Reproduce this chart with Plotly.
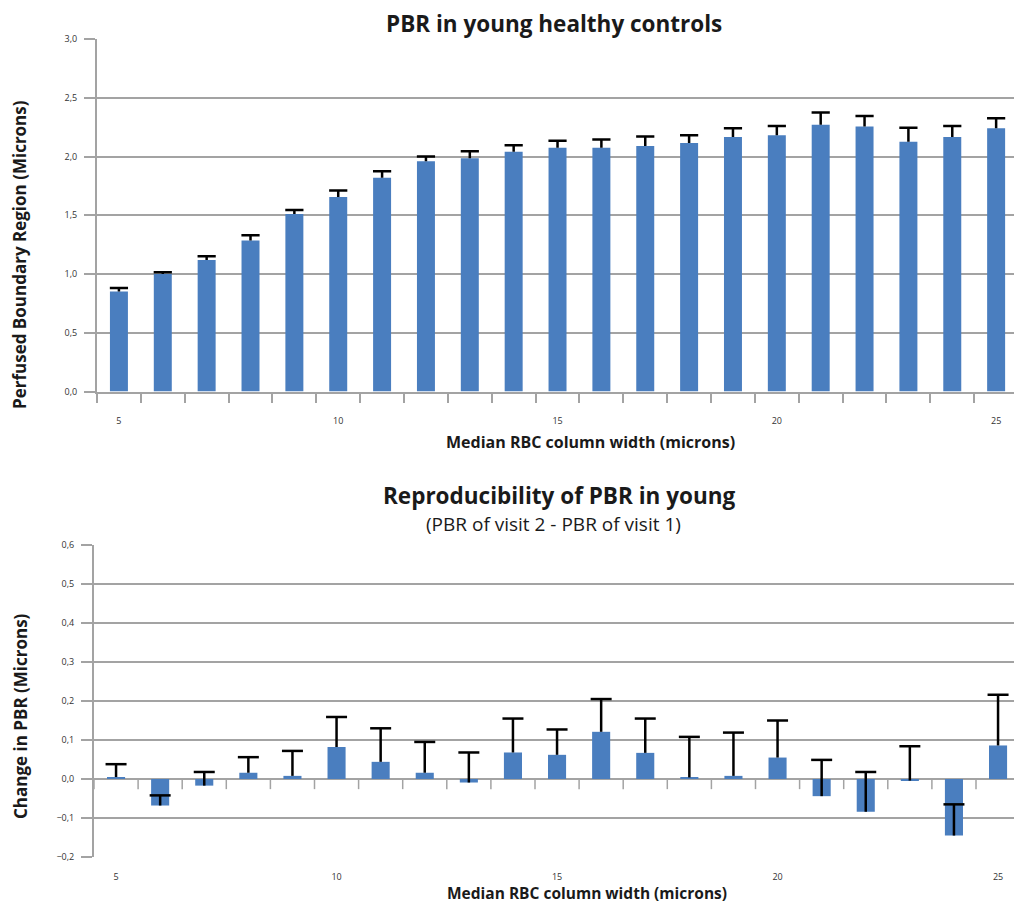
import plotly.graph_objects as go

widths = list(range(5, 26))
tick_labels = ["5", "10", "15", "20", "25"]
tick_positions = [5, 10, 15, 20, 25]

pbr_mean = [0.85, 1.00, 1.12, 1.285, 1.51, 1.655, 1.82, 1.96, 1.985, 2.04, 2.075,
            2.075, 2.09, 2.115, 2.165, 2.18, 2.27, 2.255, 2.125, 2.165, 2.24]
pbr_err = [0.03, 0.015, 0.03, 0.045, 0.035, 0.055, 0.055, 0.04, 0.06, 0.055, 0.06,
           0.07, 0.08, 0.065, 0.075, 0.08, 0.105, 0.09, 0.12, 0.095, 0.085]

delta_mean = [0.005, -0.068, -0.017, 0.016, 0.008, 0.082, 0.044, 0.016, -0.009, 0.068, 0.062,
              0.121, 0.067, 0.004, 0.008, 0.055, -0.044, -0.084, -0.004, -0.145, 0.086]
delta_err = [0.033, 0.026, 0.035, 0.040, 0.064, 0.077, 0.086, 0.079, 0.077, 0.087, 0.065,
             0.084, 0.088, 0.104, 0.111, 0.095, 0.093, 0.102, 0.088, 0.080, 0.130]

BAR = "#4a7ebf"
GRID = "#a3a3a3"
FONT = "Open Sans"
# figure is placed inside the page's default 8px body margin
FW, FH = 1007, 896


def sx(X):
    return (X - 8) / FW


def sy(Y):
    return 1 - (Y - 8) / FH


boundaries = [w - 0.5 for w in widths] + [widths[-1] + 0.5]

fig = go.Figure()


def add_panel(means, errs, xa, ya, capsize):
    fig.add_trace(go.Bar(x=widths, y=means, marker=dict(color=BAR, line=dict(width=0)),
                         xaxis=xa, yaxis=ya, showlegend=False))
    sx_, sy_ = [], []
    for w, m, e in zip(widths, means, errs):
        sx_ += [w, w, None]
        sy_ += [m, m + e, None]
    fig.add_trace(go.Scatter(x=sx_, y=sy_, mode="lines", line=dict(color="black", width=2.5),
                             xaxis=xa, yaxis=ya, showlegend=False, hoverinfo="skip"))
    fig.add_trace(go.Scatter(x=widths, y=[m + e for m, e in zip(means, errs)], mode="markers",
                             marker=dict(symbol="line-ew", size=capsize,
                                         line=dict(color="black", width=2.5)),
                             xaxis=xa, yaxis=ya, showlegend=False, hoverinfo="skip"))


add_panel(pbr_mean, pbr_err, "x", "y", 13)
add_panel(delta_mean, delta_err, "x2", "y2", 15)

# tick marks hanging from the zero line of the lower chart (category boundaries)
fig.add_trace(go.Scatter(
    x=boundaries, y=[0] * len(boundaries), mode="markers",
    marker=dict(size=0.1, color="rgba(0,0,0,0)"),
    error_y=dict(type="data", symmetric=False, array=[0] * len(boundaries),
                 arrayminus=[0.026] * len(boundaries), color=GRID, thickness=1.5, width=0),
    xaxis="x2", yaxis="y2", showlegend=False, hoverinfo="skip"))

tickfont = dict(family=FONT, size=9, color="#333333")

fig.update_layout(
    width=FW, height=FH, margin=dict(l=0, r=0, t=0, b=0, autoexpand=False),
    paper_bgcolor="white", plot_bgcolor="white",
    separators=", ", bargap=0.59,
    xaxis=dict(domain=[sx(97), sx(1014)], range=[4.5, 4.5 + (1014 - 97) / 43.86], anchor="y",
               tickvals=tick_positions, ticktext=tick_labels, ticks="",
               tickfont=tickfont, ticklabelstandoff=20, automargin=False,
               showgrid=False, zeroline=False, showline=True, linecolor=GRID, linewidth=2,
               minor=dict(tickvals=boundaries, ticks="outside", ticklen=9,
                          tickcolor=GRID, tickwidth=1.5, showgrid=False)),
    yaxis=dict(domain=[sy(391.5), sy(39)], range=[0, 3.0], anchor="x",
               dtick=0.5, tickformat=".1f", tickfont=tickfont, automargin=False,
               ticks="outside", ticklen=11, tickcolor=GRID, tickwidth=2,
               ticklabelstandoff=5,
               showgrid=True, gridcolor=GRID, gridwidth=2, zeroline=False,
               showline=True, linecolor=GRID, linewidth=2),
    xaxis2=dict(domain=[sx(94), sx(1014)], range=[4.5, 4.5 + (1014 - 94) / 44.1], anchor="y2",
                tickvals=tick_positions, ticktext=tick_labels, ticks="",
                tickfont=tickfont, ticklabelstandoff=13, automargin=False,
                showgrid=False, zeroline=False, showline=False),
    yaxis2=dict(domain=[sy(857), sy(545)], range=[-0.2, 0.6], anchor="x2",
                dtick=0.1, tickformat=".1f", tickfont=tickfont, automargin=False,
                ticks="outside", ticklen=11, tickcolor=GRID, tickwidth=2,
                ticklabelstandoff=5,
                showgrid=True, gridcolor=GRID, gridwidth=2,
                zeroline=True, zerolinecolor=GRID, zerolinewidth=2,
                showline=True, linecolor=GRID, linewidth=2),
)


def ann(text, X, Y, size, bold=False, angle=0):
    fig.add_annotation(text=f"<b>{text}</b>" if bold else text, x=sx(X), y=sy(Y),
                       xref="paper", yref="paper", showarrow=False, textangle=angle,
                       xanchor="center", yanchor="middle",
                       font=dict(family=FONT, size=size, color="#1a1a1a"))


ann("PBR in young healthy controls", 554, 23.5, 22.5, bold=True)
ann("Median RBC column width (microns)", 590, 442, 16, bold=True)
ann("Perfused Boundary Region (Microns)", 20, 255, 17, bold=True, angle=-90)
ann("Reproducibility of PBR in young", 559, 495, 22.5, bold=True)
ann("(PBR of visit 2 - PBR of visit 1)", 553, 524, 19)
ann("Median RBC column width (microns)", 587, 892.5, 15.5, bold=True)
ann("Change in PBR (Microns)", 20, 716, 17, bold=True, angle=-90)

fig.write_html("out.html")
